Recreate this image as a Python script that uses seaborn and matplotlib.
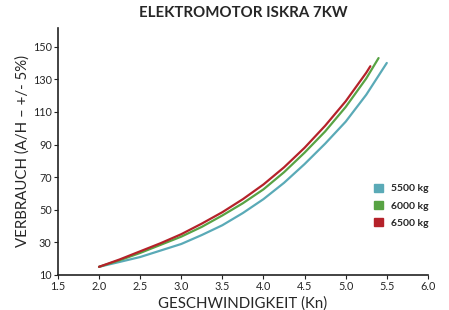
import pandas as pd
import numpy as np
import matplotlib
matplotlib.use("Agg")
import matplotlib.pyplot as plt
import matplotlib.patches as mpatches
import seaborn as sns

# data
speed_5500 = [2.0, 2.25, 2.5, 2.75, 3.0, 3.25, 3.5, 3.75, 4.0, 4.25, 4.5, 4.75, 5.0, 5.25, 5.5]
cons_5500 = [15, 18, 21, 25, 29, 34.5, 40.5, 48, 56.5, 66.5, 78, 90.5, 104, 120.5, 140]

speed_6000 = [2.0, 2.25, 2.5, 2.75, 3.0, 3.25, 3.5, 3.75, 4.0, 4.25, 4.5, 4.75, 5.0, 5.25, 5.4]
cons_6000 = [15, 19, 23.5, 28.5, 33.5, 39.5, 46.5, 54, 62.5, 73, 85, 98, 113, 130.5, 143]

speed_6500 = [2.0, 2.25, 2.5, 2.75, 3.0, 3.25, 3.5, 3.75, 4.0, 4.25, 4.5, 4.75, 5.0, 5.25, 5.3]
cons_6500 = [15, 19.5, 24.5, 29.5, 35, 41.5, 48.5, 56.5, 65.5, 76, 88, 101.5, 116.5, 134, 138]

labels = ["5500 kg", "6000 kg", "6500 kg"]
colors = ["#5AAAB7", "#58A344", "#B5222A"]

df = pd.concat([
    pd.DataFrame({"speed": speed_5500, "cons": cons_5500, "mass": labels[0]}),
    pd.DataFrame({"speed": speed_6000, "cons": cons_6000, "mass": labels[1]}),
    pd.DataFrame({"speed": speed_6500, "cons": cons_6500, "mass": labels[2]}),
])

sns.set_style("ticks")
plt.rcParams["font.family"] = ["Lato", "DejaVu Sans"]

fig = plt.figure(figsize=(4.49, 3.10), dpi=100)
ax = fig.add_axes([0.129, 0.113, 0.824, 0.797])

sns.lineplot(data=df, x="speed", y="cons", hue="mass", palette=colors,
             linewidth=1.6, ax=ax, legend=False, sort=True)

ax.set_xlim(1.5, 6.0)
ax.set_ylim(10, 161.5)
ax.set_xticks(np.arange(1.5, 6.01, 0.5))
ax.set_xticklabels([f"{v:.1f}" for v in np.arange(1.5, 6.01, 0.5)])
ax.set_yticks(range(10, 151, 20))
ax.tick_params(labelsize=7.8, length=3, width=0.8, color="#222222", pad=1.5)
for s in ["top", "right"]:
    ax.spines[s].set_visible(False)
for s in ["left", "bottom"]:
    ax.spines[s].set_linewidth(1.2)
    ax.spines[s].set_color("#222222")

ax.set_xlabel("GESCHWINDIGKEIT (Kn)", fontsize=10.8, labelpad=3)
ax.set_ylabel("VERBRAUCH (A/H – +/- 5%)", fontsize=10.8, labelpad=2)
ax.set_title("ELEKTROMOTOR ISKRA 7KW", fontsize=10.8, fontweight="bold", pad=8)

handles = [mpatches.Patch(color=c, label=l) for c, l in zip(colors, labels)]
leg = ax.legend(handles=handles, loc="center left", bbox_to_anchor=(0.83, 0.28),
                frameon=False, handlelength=0.8, handleheight=0.8,
                handletextpad=0.8, labelspacing=0.75,
                prop={"weight": "bold", "size": 7.5})

plt.savefig("out.png", dpi=100)
